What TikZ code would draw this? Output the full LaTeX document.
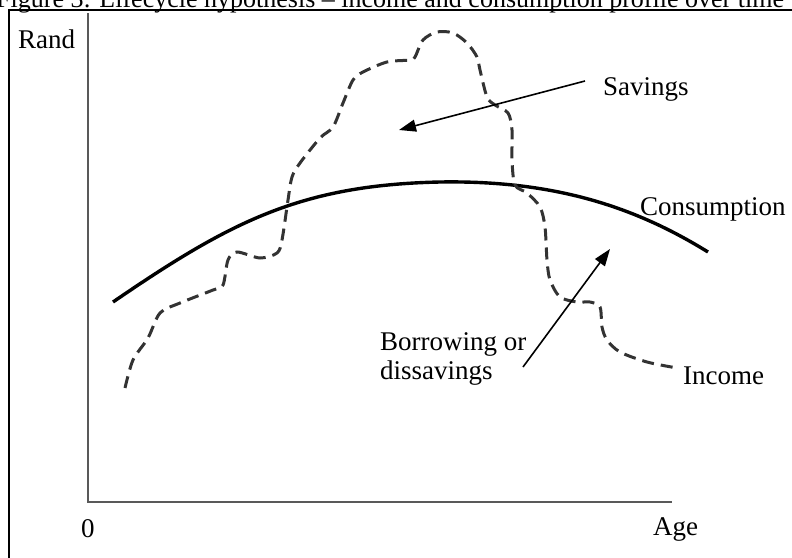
\documentclass[tikz,border=0pt]{standalone}
\usepackage{fontspec}
\setmainfont{Liberation Serif}
\usetikzlibrary{arrows.meta}
\tikzset{
  lbl/.style={anchor=base west, inner sep=0pt, font=\fontsize{27}{29}\selectfont},
  axisline/.style={line width=2pt, black!65},
  consline/.style={line width=3.4pt, black},
  incline/.style={line width=3pt, black!80, dash pattern=on 12pt off 7pt},
  arr/.style={line width=1.6pt, -{Triangle[length=17pt,width=12pt]}}
}
\begin{document}
\begin{tikzpicture}[x=1pt,y=-1pt]
\useasboundingbox (0,0) rectangle (792,557);
\clip (0,0) rectangle (792,557);
\draw[line width=1.5pt] (9,10) rectangle (820,580);
\node[lbl, font=\fontsize{26}{28}\selectfont] (title) at (-4,7) {Figure 3: Lifecycle hypothesis – income and consumption profile over time};

% axes
\draw[axisline] (88,13) -- (88,502) -- (672,502);
\node[lbl] (rand) at (18,48) {Rand};
\node[lbl] (zero) at (81,537) {0};
\node[lbl] (age) at (653,535) {Age};

% consumption
\draw[consline] (113,302) .. controls (230,222) and (300,185) .. (440,182)
  .. controls (560,180) and (640,210) .. (708,252);

% income
\draw[incline] plot[smooth, tension=0.5] coordinates {(125,388) (133,360) (148,338) (160,313) (180,303) (213,290) (223,285) (228,260) (237,252) (260,258) (277,253) (282,240) (288,200) (292,177) (300,163) (320,138) (333,127) (343,103) (353,80) (363,72) (387,62) (410,60) (415,57) (423,40) (437,32) (453,33) (467,43) (477,57) (480,70) (487,97) (495,105) (508,113) (512,130) (512,160) (515,185) (527,193) (540,207) (545,227) (547,260) (550,280) (560,297) (577,302) (590,302) (600,307) (602,327) (607,340) (620,352) (647,362) (677,368)};

\node[lbl] (savings) at (603,95) {Savings};
\node[lbl] (consumption) at (640,215) {Consumption};
\node[lbl] (income) at (683,384) {Income};
\node[lbl, align=left] (borrowing) at (380,379) {Borrowing or\\dissavings};

\coordinate (savtail) at (585,81);
\coordinate (savtip) at (399,130);
\coordinate (bortail) at (523,367);
\coordinate (bortip) at (610,249);
\draw[arr] (savtail) -- (savtip);
\draw[arr] (bortail) -- (bortip);
\end{tikzpicture}
\end{document}
